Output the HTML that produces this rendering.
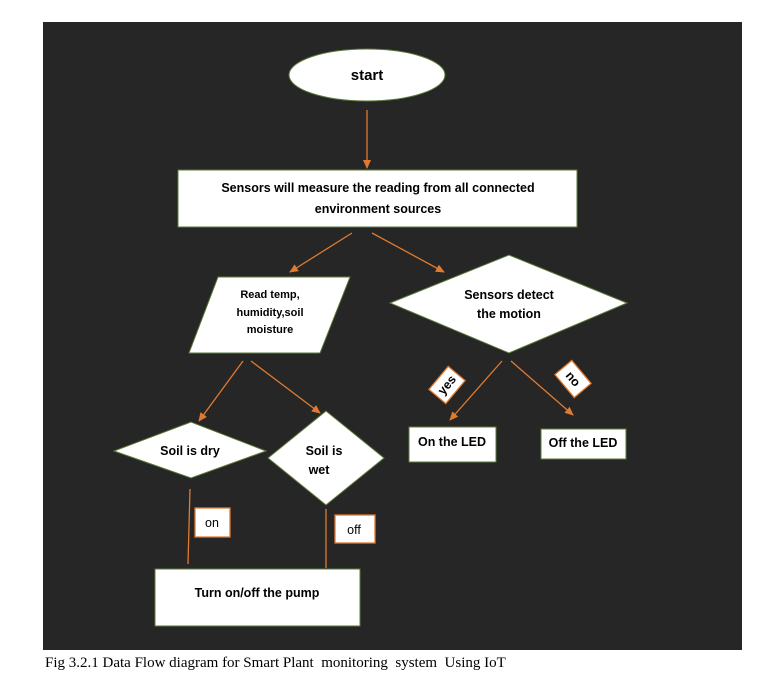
<!DOCTYPE html>
<html><head><style>
body{margin:0;background:#fff;width:781px;height:683px;overflow:hidden}
svg{position:absolute;left:0;top:0}
text{font-family:"Liberation Sans",sans-serif;font-weight:bold;font-size:12.5px;fill:#000}
.cap{font-family:"Liberation Serif",serif;font-weight:normal;font-size:15px;white-space:pre}
</style></head><body>
<svg width="781" height="683" viewBox="0 0 781 683">
<defs><marker id="a" markerWidth="10" markerHeight="10" refX="8" refY="5" orient="auto" markerUnits="userSpaceOnUse"><path d="M0,1 L9,5 L0,9 Z" fill="#e07a30"/></marker></defs>
<rect x="43" y="22" width="699" height="628" fill="#262626"/>
<g stroke="#e07a30" stroke-width="1.3" fill="none">
<line x1="367" y1="110" x2="367" y2="168" marker-end="url(#a)"/>
<line x1="352" y1="233" x2="290" y2="272" marker-end="url(#a)"/>
<line x1="372" y1="233" x2="444" y2="272" marker-end="url(#a)"/>
<line x1="243" y1="361" x2="199" y2="421" marker-end="url(#a)"/>
<line x1="251" y1="361" x2="320" y2="413" marker-end="url(#a)"/>
<line x1="502" y1="361" x2="450" y2="420" marker-end="url(#a)"/>
<line x1="511" y1="361" x2="573" y2="415" marker-end="url(#a)"/>
<line x1="190" y1="489" x2="188" y2="564"/>
<line x1="326" y1="509" x2="326" y2="568"/>
</g>
<g fill="#fff" stroke="#5a7a3a" stroke-width="1">
<ellipse cx="367" cy="75" rx="78" ry="26"/>
<rect x="178" y="170" width="399" height="57"/>
<polygon points="218,277 350,277 320,353 189,353"/>
<polygon points="390,303 509,255 627,303 509,353"/>
<polygon points="114,451 191,422 266,451 191,478"/>
<polygon points="268,458 326,411 384,458 326,505"/>
<rect x="155" y="569" width="205" height="57"/>
<rect x="409" y="427" width="87" height="35"/>
<rect x="541" y="429" width="85" height="30"/>
</g>
<g fill="#fff" stroke="#e07a30" stroke-width="1.3">
<rect x="195" y="508" width="35" height="29"/>
<rect x="335" y="515" width="40" height="28"/>
<rect x="436" y="370" width="22" height="30" transform="rotate(40 447 385)"/>
<rect x="562" y="364" width="22" height="30" transform="rotate(-40 573 379)"/>
</g>
<text x="367" y="80" text-anchor="middle" style="font-size:15px">start</text>
<text x="378" y="192" text-anchor="middle">Sensors will measure the reading from all connected</text>
<text x="378" y="213" text-anchor="middle">environment sources</text>
<text x="270" y="298" text-anchor="middle" style="font-size:11px">Read temp,</text>
<text x="270" y="316" text-anchor="middle" style="font-size:11px">humidity,soil</text>
<text x="270" y="333" text-anchor="middle" style="font-size:11px">moisture</text>
<text x="509" y="299" text-anchor="middle">Sensors detect</text>
<text x="509" y="318" text-anchor="middle">the motion</text>
<text x="190" y="455" text-anchor="middle">Soil is dry</text>
<text x="324" y="455" text-anchor="middle">Soil is</text>
<text x="319" y="474" text-anchor="middle">wet</text>
<text x="257" y="597" text-anchor="middle">Turn on/off the pump</text>
<text x="452" y="446" text-anchor="middle">On the LED</text>
<text x="583" y="447" text-anchor="middle">Off the LED</text>
<text x="212" y="527" text-anchor="middle" style="font-weight:normal">on</text>
<text x="354" y="534" text-anchor="middle" style="font-weight:normal">off</text>
<text x="447" y="389" text-anchor="middle" transform="rotate(-50 447 385)">yes</text>
<text x="573" y="383" text-anchor="middle" transform="rotate(50 573 379)">no</text>
<text class="cap" x="45" y="667">Fig 3.2.1 Data Flow diagram for Smart Plant  monitoring  system  Using IoT</text>
</svg>
</body></html>
